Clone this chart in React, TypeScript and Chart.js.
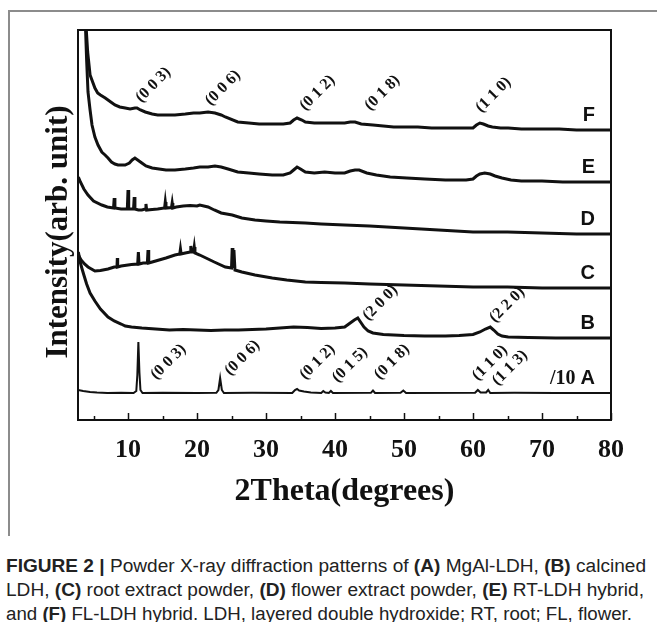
import React, { useEffect, useLayoutEffect, useRef } from "react";
import { Chart, registerables } from "chart.js";

Chart.register(...registerables);

const SERIF = "'Liberation Serif', 'Times New Roman', serif";
const SANS = "'Liberation Sans', Arial, sans-serif";

// ---------- data (2θ in degrees, intensity in arb. units, stacked) ----------
const xTickValues = [5, 10, 15, 20, 25, 30, 35, 40, 45, 50, 55, 60, 65, 70, 75, 80];

const patternA: [number, number][] = [
  [2.75, 30], [3.5, 29], [4.5, 28], [5.5, 27.5], [7, 27], [9, 27.2], [10.8, 27], [11.2, 29], [11.35, 45],
  [11.5, 78], [11.65, 48], [11.8, 30], [12.1, 27], [15, 27.3], [20, 27], [22.8, 27.2], [23.1, 30], [23.35, 42],
  [23.6, 30], [23.9, 27], [28, 27.2], [33.8, 27], [34.2, 30], [34.5, 31], [34.8, 29.5], [35.5, 28.5],
  [36.5, 27.5], [38.0, 27], [38.3, 29], [38.6, 27.5], [39.1, 27], [39.4, 29], [39.7, 27], [45.2, 27.2],
  [45.5, 29.5], [45.8, 27], [49.5, 27.2], [49.9, 29.5], [50.3, 27], [60.3, 27.2], [60.7, 30], [61.1, 27.5],
  [61.9, 27.5], [62.2, 30], [62.5, 27], [66, 27.2], [72, 27], [80, 27],
];

const patternB: [number, number][] = [
  [2.8, 168], [3.1, 157], [3.3, 152], [3.6, 145], [4.0, 136], [4.5, 127], [5.2, 119], [6.0, 111], [7.1, 103],
  [8.0, 99], [9.0, 96], [9.6, 94], [10.5, 93], [12, 92], [14, 91], [16, 90], [18, 90.5], [20, 90], [22, 89.5],
  [24, 90], [26, 90], [28, 90.5], [30, 91], [32, 92], [34, 93], [36, 92.5], [38, 91.5], [40, 92], [41.4, 93],
  [42.2, 97], [42.8, 100], [43.3, 102], [43.7, 98], [44.2, 93], [44.8, 89], [45.5, 87], [47, 85.5],
  [50, 84.5], [53, 84], [56, 84], [58, 84.5], [60, 85.5], [61, 88], [61.8, 91], [62.5, 93], [63.0, 90],
  [63.6, 86], [64.2, 84], [65.1, 83], [68, 82.5], [72, 82], [76, 82], [80, 82],
];

const patternC: [number, number][] = [
  [2.8, 165], [3.2, 160], [3.7, 156], [4.2, 153], [5.2, 149], [6.0, 149.5], [7.1, 151], [8.0, 153],
  [8.4, 153], [8.45, 162], [8.5, 153], [9.0, 154], [10.0, 155], [10.5, 155.5], [11.4, 156], [11.5, 168],
  [11.6, 156], [12.2, 157], [12.8, 157], [12.9, 170], [13.0, 157], [13.5, 158], [14.5, 160], [15.5, 162],
  [16.8, 165], [17.5, 166], [17.6, 171], [17.7, 166], [18.3, 167], [19.0, 168], [19.1, 174], [19.2, 168],
  [19.5, 168], [19.6, 173], [19.7, 167], [20.4, 165], [21.6, 161], [22.5, 158], [24.1, 153], [25.0, 152],
  [25.1, 172], [25.2, 152], [25.35, 170], [25.5, 150], [26.5, 148], [28.4, 145], [30.9, 142], [33, 140],
  [35.7, 138], [38, 137.5], [41.4, 137], [45, 136], [50, 135], [55, 134], [60, 133], [65, 133],
  [70, 132], [75, 132], [80, 132],
];

const patternD: [number, number][] = [
  [2.8, 243], [3.1, 238], [3.6, 231], [4.2, 225], [5.0, 219], [6.2, 215], [7.0, 213], [7.9, 212],
  [8.0, 222], [8.1, 212], [9.0, 211], [9.9, 211], [10.0, 230], [10.1, 211], [10.8, 211], [10.9, 223],
  [11.0, 211], [11.5, 210], [12.0, 210], [12.5, 211], [12.6, 216], [12.7, 210], [13.5, 210.5], [14.3, 211],
  [15.3, 212], [15.4, 218], [15.5, 212], [16.3, 212.5], [16.4, 217], [16.5, 212], [17.0, 213], [18.0, 214],
  [19.0, 214.5], [20.0, 214], [20.4, 215], [21.6, 213], [22.5, 210], [23.5, 207], [25.1, 205], [26.5, 202],
  [28.4, 200], [30.0, 199], [32.0, 198], [35.7, 197], [38, 196], [41.4, 195], [45, 194], [50, 192],
  [55, 190], [60, 188], [65, 188], [70, 187], [75, 186], [80, 186],
];

const patternE: [number, number][] = [
  [3.7, 420], [3.85, 390], [4.0, 360], [4.2, 328], [4.5, 310], [4.78, 295], [5.2, 283], [5.65, 275],
  [6.2, 268], [6.67, 265], [7.1, 262], [7.6, 258], [8.1, 256], [8.55, 255], [9.0, 255], [9.57, 255],
  [10.2, 257], [10.6, 260], [11.0, 262], [11.4, 260], [11.8, 258], [12.0, 257], [12.6, 254], [13.5, 252],
  [14.5, 251], [15.5, 250], [16.8, 250], [18.3, 251], [19.5, 252], [20.4, 253], [21.6, 253], [22.6, 254],
  [23.5, 253], [24.5, 251], [25.9, 248], [27.5, 247], [29, 246], [30.9, 245], [32.5, 245], [33.5, 247],
  [34.0, 250], [34.5, 253], [35.0, 251], [35.7, 248], [37, 247], [38.5, 248], [40, 247], [41.4, 247],
  [42.2, 249], [42.9, 250], [43.5, 250], [44.6, 247], [46, 245], [48, 243], [50.4, 242], [53, 241],
  [56, 240], [59, 240], [60, 241], [60.5, 244], [61.0, 246], [61.7, 247], [62.5, 246], [63.2, 244],
  [64.2, 242], [65.5, 240], [67, 239], [70, 239], [73, 238], [76, 238], [80, 238],
];

const patternF: [number, number][] = [
  [3.75, 420], [3.95, 390], [4.15, 368], [4.5, 345], [5.2, 332], [5.6, 327], [6.0, 325], [6.7, 322],
  [7.5, 318], [8.1, 315], [8.8, 313], [9.6, 312], [10.3, 311], [11.0, 312], [11.3, 312], [11.8, 310],
  [12.5, 308], [13.5, 306], [14.3, 305], [15.5, 305], [16.8, 305], [18.3, 306], [19.5, 307], [20.4, 307],
  [21.6, 308], [22.6, 307], [23.5, 305], [24.1, 303], [25.9, 298], [27.5, 297], [29, 296], [30.9, 296],
  [32.5, 296], [33.5, 297], [34.0, 300], [34.5, 302], [35.2, 300], [35.7, 298], [37, 297], [38.5, 297],
  [40, 297], [41.4, 297], [42.2, 298], [42.9, 298], [43.8, 296], [45.5, 295], [47, 294], [48.5, 293],
  [50.4, 293], [52, 293], [54, 292], [56, 292], [58, 292], [60, 292], [60.5, 295], [61.0, 297],
  [61.5, 296], [62.2, 294], [62.8, 293], [64, 292], [65.1, 292], [67, 291], [70, 291], [72.5, 291],
  [75, 290], [77.5, 290], [80, 290],
];

const seriesNames = ["A", "B", "C", "D", "E", "F"];
const seriesData = [patternA, patternB, patternC, patternD, patternE, patternF];

// Miller-index annotations anchored in data units (2θ, intensity)
const peakLabelText = [
  "(0 0 3)", "(0 0 6)", "(0 1 2)", "(0 1 8)", "(1 1 0)",
  "(0 0 3)", "(0 0 6)", "(0 1 2)", "(0 1 5)", "(0 1 8)", "(1 1 0)", "(1 1 3)",
  "(2 0 0)", "(2 2 0)",
];
const peakLabelX = [11.9, 22.0, 35.7, 45.1, 61.2, 14.1, 24.8, 35.7, 40.4, 46.5, 60.7, 63.6, 44.8, 63.2];
const peakLabelY = [317, 314, 309, 309, 307, 40, 44, 40, 37, 40, 39, 34, 99, 97];

const scaleNote = "/10";
const xTitle = "2Theta(degrees)";
const yTitle = "Intensity(arb. unit)";

// ---------- overlay plugin ----------
const overlayPlugin = {
  id: "xrdOverlay",
  afterDatasetsDraw(chart: any) {
    const { ctx, chartArea: a, scales } = chart;
    const x = scales.x;
    const y = scales.y;
    ctx.save();
    // plot frame
    ctx.strokeStyle = "#111";
    ctx.lineWidth = 2;
    ctx.strokeRect(a.left, a.top, a.right - a.left, a.bottom - a.top);
    // inward ticks
    ctx.lineWidth = 1.5;
    for (const v of xTickValues) {
      const px = Math.round(x.getPixelForValue(v)) + 0.5;
      const len = v % 10 === 0 ? 7 : 4;
      ctx.beginPath();
      ctx.moveTo(px, a.bottom);
      ctx.lineTo(px, a.bottom - len);
      ctx.stroke();
    }
    // peak labels
    ctx.fillStyle = "#111";
    ctx.font = `bold 16px ${SERIF}`;
    ctx.textAlign = "left";
    ctx.textBaseline = "alphabetic";
    peakLabelText.forEach((t, i) => {
      ctx.save();
      ctx.translate(x.getPixelForValue(peakLabelX[i]), y.getPixelForValue(peakLabelY[i]));
      ctx.rotate(-Math.PI / 4);
      ctx.fillText(t, 0, 0);
      ctx.restore();
    });
    // series letters
    ctx.textAlign = "right";
    const letterRight = a.right - 16;
    chart.data.datasets.forEach((ds: any) => {
      const last = ds.data[ds.data.length - 1];
      const py = y.getPixelForValue(last.y) - 9;
      ctx.font = `bold 20px ${SANS}`;
      ctx.fillText(ds.label, letterRight, py);
      if (ds.label === "A") {
        const w = ctx.measureText(ds.label).width;
        ctx.font = `bold 20px ${SERIF}`;
        ctx.fillText(scaleNote, letterRight - w - 5, py);
      }
    });
    // axis titles
    ctx.font = `bold 31px ${SERIF}`;
    ctx.textAlign = "center";
    ctx.save();
    ctx.translate(67, (a.top + a.bottom) / 2 + 7);
    ctx.rotate(-Math.PI / 2);
    ctx.fillText(yTitle, 0, 0);
    ctx.restore();
    ctx.font = `bold 32px ${SERIF}`;
    ctx.fillText(xTitle, (a.left + a.right) / 2, 500);
    ctx.restore();
  },
};

function CaptionLine({ top, width, children }: { top: number; width: number; children: React.ReactNode }) {
  const ref = useRef<HTMLDivElement>(null);
  useLayoutEffect(() => {
    const el = ref.current;
    if (!el) return;
    el.style.transform = "none";
    const w = el.getBoundingClientRect().width;
    if (w > 0) el.style.transform = `scaleX(${width / w})`;
  }, [width]);
  return (
    <div
      ref={ref}
      style={{
        position: "absolute",
        left: 6,
        top,
        whiteSpace: "nowrap",
        transformOrigin: "left top",
        fontFamily: SANS,
        fontSize: 18,
        lineHeight: "24px",
        color: "#222",
      }}
    >
      {children}
    </div>
  );
}

export default function App() {
  const canvasRef = useRef<HTMLCanvasElement>(null);

  useEffect(() => {
    const canvas = canvasRef.current;
    if (!canvas) return;
    const chart = new Chart(canvas, {
      type: "line",
      data: {
        datasets: seriesData.map((d, i) => ({
          label: seriesNames[i],
          data: d.map(([xv, yv]) => ({ x: xv, y: yv })),
          borderColor: "#111",
          borderWidth: i === 0 ? 2 : 3,
          pointRadius: 0,
          fill: false,
          tension: 0,
        })),
      },
      options: {
        responsive: false,
        animation: false,
        events: [],
        layout: { padding: { left: 78, top: 30, right: 46, bottom: 60 } },
        plugins: {
          legend: { display: false },
          tooltip: { enabled: false },
        },
        scales: {
          x: {
            type: "linear",
            min: 2.75,
            max: 80,
            grid: { display: false, drawTicks: false },
            border: { display: false },
            afterBuildTicks: (s: any) => {
              s.ticks = xTickValues.map((v) => ({ value: v }));
            },
            afterFit: (s: any) => {
              s.height = 60;
              s.paddingLeft = 0;
              s.paddingRight = 0;
            },
            ticks: {
              autoSkip: false,
              maxRotation: 0,
              minRotation: 0,
              padding: 15,
              color: "#111",
              font: { family: SERIF, size: 26, weight: "bold" },
              callback: (v: any) => (Number(v) % 10 === 0 ? String(v) : ""),
            },
          },
          y: { display: false, min: 0, max: 390 },
        },
      },
      plugins: [overlayPlugin],
    } as any);
    return () => chart.destroy();
  }, []);

  return (
    <div style={{ position: "absolute", left: 0, top: 0, width: 657, height: 622, overflow: "hidden", background: "#fff" }}>
      <div
        style={{
          position: "absolute",
          left: 8,
          top: 10,
          width: 700,
          height: 524,
          borderTop: "2px solid #8c8c8c",
          borderLeft: "2px solid #8c8c8c",
        }}
      />
      <canvas ref={canvasRef} width={657} height={540} style={{ position: "absolute", left: 0, top: 0 }} />
      <CaptionLine top={554} width={640}>
        <b>FIGURE 2 |</b> Powder X-ray diffraction patterns of <b>(A)</b> MgAl-LDH, <b>(B)</b> calcined
      </CaptionLine>
      <CaptionLine top={578} width={638}>
        LDH, <b>(C)</b> root extract powder, <b>(D)</b> flower extract powder, <b>(E)</b> RT-LDH hybrid,
      </CaptionLine>
      <CaptionLine top={602} width={626}>
        and <b>(F)</b> FL-LDH hybrid. LDH, layered double hydroxide; RT, root; FL, flower.
      </CaptionLine>
    </div>
  );
}
